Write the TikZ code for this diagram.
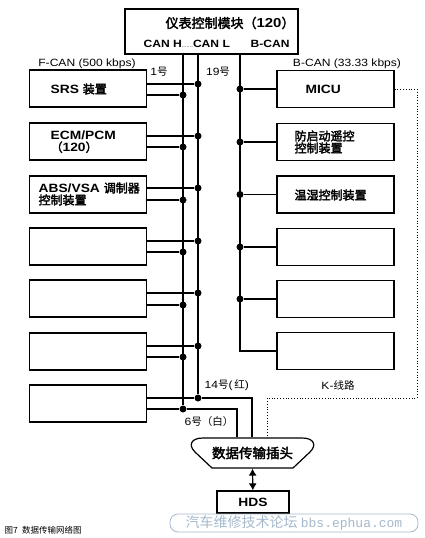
\documentclass[tikz,border=0pt]{standalone}
\usepackage{fontspec}
\usetikzlibrary{arrows.meta}
\setmainfont{Liberation Sans}[FakeStretch=1.15]
\newfontfamily\cjk{Noto Sans CJK SC}[BoldFont={Noto Sans CJK SC}, BoldFeatures={FakeBold=2.6}]
\newfontfamily\wmmono{Liberation Mono}
\definecolor{wm}{RGB}{165,185,205}

\begin{document}
\begin{tikzpicture}[x = 1pt, y = -1pt, line width = 1.2pt,
  dot/.style = {circle, fill, inner sep = 0pt, minimum size = 7pt},
  ecu/.style = {draw, minimum width = 117pt, minimum height = 37pt, inner sep = 0pt},
  ecutxt/.style = {anchor = west, inner sep = 0pt, align = left, font = \bfseries\fontsize{12}{12}\selectfont},
  buslbl/.style = {inner sep = 0pt, font = \fontsize{10.5}{12}\selectfont}]
  \useasboundingbox (0,0) rectangle (424,538);

  % gauge control module
  \node (gw) [draw, minimum width = 173pt, minimum height = 45pt] at (211.5,31.5) {};
  \node (gwname) [ecutxt, font = \bfseries\fontsize{13}{13}\selectfont] at (165,23) {{\cjk 仪表控制模块（}120{\cjk ）}};
  \node (canhl) [ecutxt, font = \bfseries\fontsize{10.5}{10.5}\selectfont] at (143,44) {CAN H{\mdseries\fontsize{5}{5}\selectfont .......}CAN L};
  \node (bcan) [ecutxt, font = \bfseries\fontsize{10.5}{10.5}\selectfont] at (250,44) {B-CAN};
  \coordinate (h0) at (183,54);
  \coordinate (l0) at (198,54);
  \coordinate (b0) at (240,54);

  % F-CAN units
  \node (l1) [ecu] at (88,88.5) {};
  \node (l2) [ecu] at (88,141.5) {};
  \node (l3) [ecu] at (88,194.5) {};
  \node (l4) [ecu] at (88,246.5) {};
  \node (l5) [ecu] at (88,298.5) {};
  \node (l6) [ecu] at (88,351.5) {};
  \node (l7) [ecu] at (88,403.5) {};
  \node (l1t) [ecutxt] at (50,89) {SRS {\cjk 装置}};
  \node (l2t) [ecutxt] at (50,142) {ECM/PCM\\{\cjk （}120{\cjk ）}};
  \node (l3t) [ecutxt] at (38,194) {ABS/VSA {\cjk 调制器}\\{\cjk 控制装置}};

  % B-CAN units
  \node (r1) [ecu] at (335.5,89) {};
  \node (r2) [ecu] at (335.5,142) {};
  \node (r3) [ecu] at (335.5,194.5) {};
  \node (r4) [ecu] at (335.5,247) {};
  \node (r5) [ecu] at (335.5,299) {};
  \node (r6) [ecu] at (335.5,351) {};
  \node (r1t) [ecutxt] at (305,89) {MICU};
  \node (r2t) [ecutxt] at (294,142) {{\cjk 防启动遥控}\\{\cjk 控制装置}};
  \node (r3t) [ecutxt] at (294,195) {{\cjk 温湿控制装置}};

  % bus taps
  \node (L1) [dot] at (198,84) {};
  \node (L2) [dot] at (198,136) {};
  \node (L3) [dot] at (198,188) {};
  \node (L4) [dot] at (198,241) {};
  \node (L5) [dot] at (198,293) {};
  \node (L6) [dot] at (198,346) {};
  \node (L7) [dot] at (198,398) {};
  \node (H1) [dot] at (183,95) {};
  \node (H2) [dot] at (183,147) {};
  \node (H3) [dot] at (183,200) {};
  \node (H4) [dot] at (183,252) {};
  \node (H5) [dot] at (183,305) {};
  \node (H6) [dot] at (183,357) {};
  \node (H7) [dot] at (183,409) {};
  \node (B1) [dot] at (240,89) {};
  \node (B2) [dot] at (240,142) {};
  \node (B3) [dot] at (240,194.5) {};
  \node (B4) [dot] at (240,247) {};
  \node (B5) [dot] at (240,299) {};
  \coordinate (b6) at (240,351);

  % data link connector and tester
  \node (plug) [minimum width = 119pt, minimum height = 30pt, inner sep = 0pt, font = \cjk\bfseries\fontsize{13.5}{13.5}\selectfont] at (252.5,453) {数据传输插头};
  \draw (212,468) -- (195,452) .. controls (188,445) and (191,438) .. (203,438) -- (302,438) .. controls (314,438) and (317,445) .. (310,452) -- (293,468) -- cycle;
  \node (hds) [draw, minimum width = 72pt, minimum height = 22pt, font = \bfseries\fontsize{12}{12}\selectfont] at (253,502) {HDS};
  \coordinate (p14) at (252,398);
  \coordinate (p6) at (237,409);
  \coordinate (k1) at (417,89);
  \coordinate (k2) at (417,398);
  \coordinate (k3) at (267,398);

  % labels
  \node (fcan) [buslbl] at (87,64) {F-CAN (500 kbps)};
  \node (bcanl) [buslbl] at (347,64) {B-CAN (33.33 kbps)};
  \node (no1) [buslbl] at (159,72) {1{\cjk 号}};
  \node (no19) [buslbl] at (218,72) {19{\cjk 号}};
  \node (no14) [buslbl, anchor = west] at (204,385) {14{\cjk 号}(\,{\cjk 红})};
  \node (no6) [buslbl, anchor = west] at (184,422) {6{\cjk 号（白）}};
  \node (kline) [buslbl] at (338,385) {K-{\cjk 线路}};
  \node (cap) [anchor = west, inner sep = 0pt, font = \cjk\fontsize{8.5}{9}\selectfont] at (4,530) {图7\enspace 数据传输网络图};

  % buses
  \draw (h0) -- (H7);
  \draw (l0) -- (L7);
  \draw (b0) -- (b6) -- (r6.west);

  \draw (l1.east |- L1) -- (L1);
  \draw (l1.east |- H1) -- (H1);
  \draw (l2.east |- L2) -- (L2);
  \draw (l2.east |- H2) -- (H2);
  \draw (l3.east |- L3) -- (L3);
  \draw (l3.east |- H3) -- (H3);
  \draw (l4.east |- L4) -- (L4);
  \draw (l4.east |- H4) -- (H4);
  \draw (l5.east |- L5) -- (L5);
  \draw (l5.east |- H5) -- (H5);
  \draw (l6.east |- L6) -- (L6);
  \draw (l6.east |- H6) -- (H6);
  \draw (l7.east |- L7) -- (L7) -- (p14) -- (p14 |- plug.north);
  \draw (l7.east |- H7) -- (H7) -- (p6) -- (p6 |- plug.north);

  \draw (B1) -- (B1 -| r1.west);
  \draw (B2) -- (B2 -| r2.west);
  \draw (B3) -- (B3 -| r3.west);
  \draw (B4) -- (B4 -| r4.west);
  \draw (B5) -- (B5 -| r5.west);

  \draw [dotted, line width = 0.8pt] (r1.east) -- (k1) -- (k2) -- (k3) -- (k3 |- plug.north);
  \draw [{Latex[length = 7pt, width = 8pt]}-{Latex[length = 7pt, width = 8pt]}] (plug.south) -- (hds);

  % watermark
  \node (mark) [draw = wm, fill = white, text = wm, rounded corners = 8pt, line width = 0.8pt, minimum width = 248pt, minimum height = 18pt, inner sep = 0pt] at (294,523) {{\cjk\fontsize{14}{14}\selectfont 汽车维修技术论坛} {\wmmono\fontsize{13}{13}\selectfont bbs.ephua.com}};
\end{tikzpicture}
\end{document}
